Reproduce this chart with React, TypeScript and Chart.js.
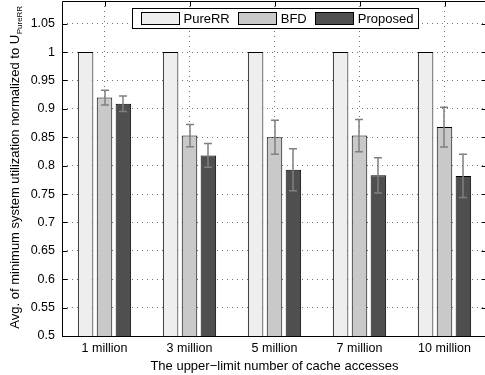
import React, { useEffect, useRef } from "react";
import { Chart, registerables } from "chart.js";

Chart.register(...registerables);

const categories = ["1 million", "3 million", "5 million", "7 million", "10 million"];
const seriesNames = ["PureRR", "BFD", "Proposed"];
const pureRR = [1, 1, 1, 1, 1];
const bfd = [0.92, 0.853, 0.85, 0.853, 0.868];
const bfdErr = [0.013, 0.0195, 0.03, 0.0285, 0.035];
const proposed = [0.909, 0.818, 0.793, 0.783, 0.782];
const proposedErr = [0.0135, 0.021, 0.037, 0.031, 0.038];
const yTickValues = [0.5, 0.55, 0.6, 0.65, 0.7, 0.75, 0.8, 0.85, 0.9, 0.95, 1, 1.05];
const yTickLabels = ["0.5", "0.55", "0.6", "0.65", "0.7", "0.75", "0.8", "0.85", "0.9", "0.95", "1", "1.05"];
const yMin = 0.5;
const yMax = 1.09;
const xTitle = "The upper\u2212limit number of cache accesses";
const yTitleMain = "Avg. of minimum system utilization normalized to U";
const yTitleSub = "PureRR";
const colors = ["#eeeeee", "#c9c9c9", "#4f4f4f"];

const FONT = '"Liberation Sans", Arial, Helvetica, sans-serif';

const framePlugin = {
  id: "frame",
  beforeDatasetsDraw(chart: any) {
    const { ctx, chartArea: a, scales } = chart;
    const L = Math.round(a.left) + 0.5;
    const R = Math.round(a.right) - 0.5;
    const T = Math.round(a.top) + 0.5;
    const B = Math.round(a.bottom) + 0.5;
    ctx.save();
    ctx.strokeStyle = "#000";
    ctx.lineWidth = 1;
    ctx.beginPath();
    ctx.rect(L, T, R - L, B - T);
    ctx.stroke();
    ctx.beginPath();
    for (const v of yTickValues) {
      const y = Math.round(scales.y.getPixelForValue(v)) + 0.5;
      ctx.moveTo(L, y);
      ctx.lineTo(L + 5, y);
      ctx.moveTo(R, y);
      ctx.lineTo(R - 5, y);
    }
    for (let i = 0; i < categories.length; i++) {
      const x = Math.round(scales.x.getPixelForValue(i)) + 0.5;
      ctx.moveTo(x, T);
      ctx.lineTo(x, T + 5);
      ctx.moveTo(x, B);
      ctx.lineTo(x, B - 5);
    }
    ctx.stroke();
    ctx.restore();
  },
  afterDatasetsDraw(chart: any) {
    const { ctx, scales } = chart;
    ctx.save();
    ctx.strokeStyle = "#808080";
    ctx.lineWidth = 1.5;
    chart.data.datasets.forEach((ds: any, di: number) => {
      if (!ds.errors) return;
      const meta = chart.getDatasetMeta(di);
      meta.data.forEach((bar: any, i: number) => {
        const v = ds.data[i];
        const e = ds.errors[i];
        const x = Math.round(bar.x);
        const yHi = scales.y.getPixelForValue(v + e);
        const yLo = scales.y.getPixelForValue(v - e);
        ctx.beginPath();
        ctx.moveTo(x, yHi);
        ctx.lineTo(x, yLo);
        ctx.moveTo(x - 4, yHi);
        ctx.lineTo(x + 4, yHi);
        ctx.moveTo(x - 4, yLo);
        ctx.lineTo(x + 4, yLo);
        ctx.stroke();
      });
    });
    ctx.restore();
  },
  afterDraw(chart: any) {
    const { ctx, chartArea: a } = chart;
    ctx.save();
    ctx.fillStyle = "#000";
    // x title
    ctx.font = `13px ${FONT}`;
    ctx.textAlign = "center";
    ctx.textBaseline = "middle";
    ctx.fillText(xTitle, (a.left + a.right) / 2, 366);
    // y title with subscript
    ctx.textAlign = "left";
    ctx.textBaseline = "alphabetic";
    ctx.font = `13px ${FONT}`;
    const wMain = ctx.measureText(yTitleMain).width;
    ctx.font = `8px ${FONT}`;
    const wSub = ctx.measureText(yTitleSub).width;
    const total = wMain + wSub;
    ctx.translate(19, 167.5);
    ctx.rotate(-Math.PI / 2);
    ctx.font = `13px ${FONT}`;
    ctx.fillText(yTitleMain, -total / 2, 0);
    ctx.font = `8px ${FONT}`;
    ctx.fillText(yTitleSub, -total / 2 + wMain + 0.5, 3);
    ctx.restore();

    // legend
    ctx.save();
    ctx.font = `13px ${FONT}`;
    const sw = 38, sh = 12, padL = 8, padR = 5, gapT = 5, gapI = 8;
    const widths = seriesNames.map((n) => ctx.measureText(n).width);
    let total2 = padL + padR;
    widths.forEach((w, i) => {
      total2 += sw + gapT + w + (i < widths.length - 1 ? gapI : 0);
    });
    const cx = (a.left + a.right) / 2;
    const bx = Math.round(cx - total2 / 2) + 0.5;
    const by = 8.5;
    const bh = 20;
    ctx.fillStyle = "#fff";
    ctx.fillRect(bx, by, total2, bh);
    ctx.strokeStyle = "#000";
    ctx.lineWidth = 1;
    ctx.strokeRect(bx, by, Math.round(total2), bh);
    let x = bx + padL;
    chart.data.datasets.forEach((ds: any, i: number) => {
      ctx.fillStyle = ds.backgroundColor;
      ctx.fillRect(Math.round(x) + 0.5, by + 4, sw, sh);
      ctx.strokeStyle = "#000";
      ctx.strokeRect(Math.round(x) + 0.5, by + 4, sw, sh);
      x += sw + gapT;
      ctx.fillStyle = "#000";
      ctx.textAlign = "left";
      ctx.textBaseline = "middle";
      ctx.fillText(ds.label, x, by + 10.5);
      x += widths[i] + gapI;
    });
    ctx.restore();
  },
};

export default function App() {
  const ref = useRef<HTMLCanvasElement | null>(null);
  useEffect(() => {
    if (!ref.current) return;
    Chart.defaults.font.family = FONT;
    Chart.defaults.font.size = 12.5;
    Chart.defaults.color = "#000";
    const chart = new Chart(ref.current, {
      type: "bar",
      data: {
        labels: categories,
        datasets: [
          { label: seriesNames[0], data: pureRR, backgroundColor: colors[0], borderColor: "#000", borderWidth: 1 },
          { label: seriesNames[1], data: bfd, errors: bfdErr, backgroundColor: colors[1], borderColor: "#000", borderWidth: 1 } as any,
          { label: seriesNames[2], data: proposed, errors: proposedErr, backgroundColor: colors[2], borderColor: "#000", borderWidth: 1 } as any,
        ],
      },
      options: {
        responsive: false,
        animation: false,
        layout: { padding: { top: 1, right: 3, left: 0, bottom: 0 } },
        datasets: { bar: { categoryPercentage: 0.667, barPercentage: 0.82 } },
        plugins: { legend: { display: false }, tooltip: { enabled: false } },
        scales: {
          x: {
            offset: true,
            grid: { offset: false, drawTicks: false, color: "rgba(0,0,0,0.55)" },
            border: { display: false, dash: [1, 4] },
            ticks: { padding: 5, maxRotation: 0, autoSkip: false, font: { size: 12.5 } },
            afterFit(scale: any) {
              scale.height = 39;
              scale.paddingLeft = 0;
              scale.paddingRight = 0;
            },
          },
          y: {
            min: yMin,
            max: yMax,
            grid: { drawTicks: false, color: "rgba(0,0,0,0.55)" },
            border: { display: false, dash: [1, 4] },
            ticks: {
              padding: 7,
              font: { size: 12.5 },
              callback: (_v: any, i: number) => yTickLabels[i],
            },
            afterBuildTicks(scale: any) {
              scale.ticks = yTickValues.map((v) => ({ value: v }));
            },
            afterFit(scale: any) {
              scale.width = 62;
              scale.paddingTop = 0;
              scale.paddingBottom = 0;
            },
          },
        },
      },
      plugins: [framePlugin],
    } as any);
    return () => chart.destroy();
  }, []);
  return (
    <div style={{ position: "fixed", left: 0, top: 0, width: 485, height: 375, overflow: "hidden", background: "#fff" }}>
      <canvas ref={ref} width={490} height={375} style={{ display: "block" }} />
    </div>
  );
}
